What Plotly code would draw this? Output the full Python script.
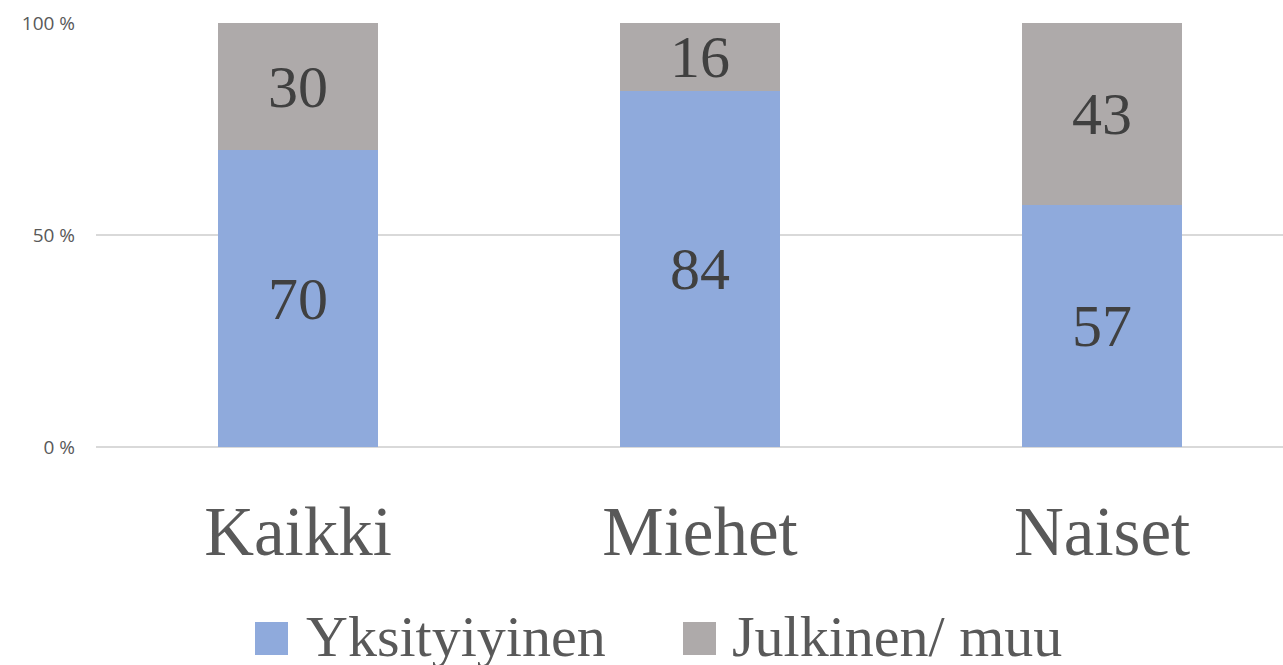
import plotly.graph_objects as go

categories = ["Kaikki", "Miehet", "Naiset"]
series_names = ["Yksityiyinen", "Julkinen/ muu"]
yksityinen = [70, 84, 57]
julkinen = [30, 16, 43]
y_ticks = [0, 50, 100]
y_ticklabels = ["0 %", "50 %", "100 %"]
colors = ["#8FAADC", "#AEAAAA"]

SERIF = "Liberation Serif, Times New Roman, serif"

fig = go.Figure()
for name, vals, col in zip(series_names, [yksityinen, julkinen], colors):
    fig.add_trace(go.Bar(
        x=categories, y=vals, name=name,
        marker=dict(color=col, line=dict(width=0)),
        text=vals, texttemplate="%{text}",
        textposition="inside", insidetextanchor="middle", textangle=0,
        constraintext="none",
        textfont=dict(family=SERIF, size=60, color="#404040"),
        width=0.4, showlegend=False, hoverinfo="skip",
    ))

W, H = 1283, 665
L, R, T, B = 96, 0, 23, 218
pw, ph = W - L - R, H - T - B

def px(x):
    return (x - L) / pw

def py(y):
    return (H - B - y) / ph

shapes = []
annotations = []
legend_sq_x = [255, 683]
legend_txt_x = [304, 730]
for i, name in enumerate(series_names):
    shapes.append(dict(type="rect", xref="paper", yref="paper",
                       x0=px(legend_sq_x[i]), x1=px(legend_sq_x[i] + 33),
                       y0=py(622), y1=py(655),
                       fillcolor=colors[i], line=dict(width=0)))
    annotations.append(dict(xref="paper", yref="paper", x=px(legend_txt_x[i]), y=py(636),
                            xanchor="left", yanchor="middle", showarrow=False,
                            text=name, font=dict(family=SERIF, size=58, color="#595959")))

fig.update_layout(
    barmode="stack",
    width=W, height=H,
    margin=dict(l=L, r=R, t=T, b=B, pad=0),
    paper_bgcolor="white", plot_bgcolor="white",
    shapes=shapes, annotations=annotations,
    xaxis=dict(range=[-0.5025, 2.45], showgrid=False, showline=False, zeroline=False,
               ticks="", tickfont=dict(family=SERIF, size=69, color="#595959"),
               ticklabelstandoff=38),
    yaxis=dict(range=[0, 100], tickvals=y_ticks, ticktext=y_ticklabels,
               showgrid=True, gridcolor="#D9D9D9", gridwidth=1.5,
               zeroline=True, zerolinecolor="#D9D9D9", zerolinewidth=1.5,
               showline=False, ticks="",
               tickfont=dict(family="Open Sans, sans-serif", size=19, color="#595959"),
               ticklabelstandoff=20),
)

fig.write_html("out.html", config={"displayModeBar": False},
               post_script="document.body.style.margin='0';document.body.style.overflow='hidden';")
